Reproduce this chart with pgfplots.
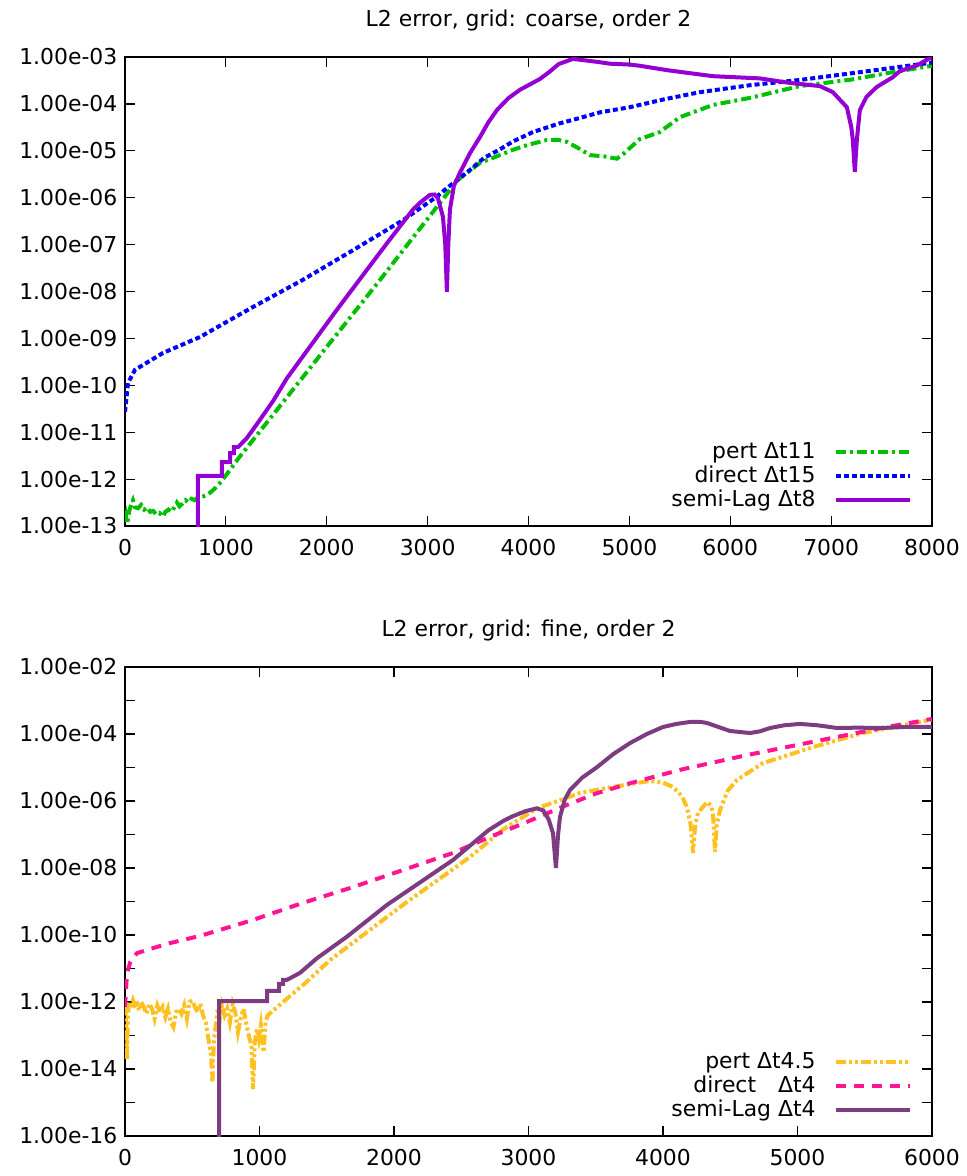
\documentclass[border=0pt,11pt]{standalone}
\usepackage{fontspec}
\setmainfont{DejaVu Sans}
\usepackage{pgfplots}
\pgfplotsset{compat=1.18}
\definecolor{cgreen}{RGB}{0,192,0}
\definecolor{cblue}{RGB}{0,0,255}
\definecolor{cviolet}{RGB}{148,0,211}
\definecolor{cyellow}{RGB}{255,192,32}
\definecolor{cpink}{RGB}{255,20,147}
\definecolor{cplum}{RGB}{125,60,130}
\begin{document}
\begin{tikzpicture}
\pgfplotsset{
  every axis/.append style={
    scale only axis, width=403.5pt, height=234.5pt,
    ymode=log,
    axis line style={line width=0.8pt},
    tick style={black, line width=0.6pt},
    major tick length=5pt,
    yminorticks=false, xminorticks=false,
    tick align=inside,
    xticklabel style={/pgf/number format/1000 sep={}, /pgf/number format/assume math mode=true, yshift=-3pt},
    title style={yshift=3pt},
    legend cell align=right,
    legend plot pos=right,
    legend style={at={(1,0)}, anchor=south east, xshift=-10pt, yshift=6pt, draw=none, fill=none, column sep=7pt, row sep=-2pt, inner sep=0pt},
    legend image code/.code={\draw[#1] (0pt,0pt) -- (37pt,0pt);},
  }
}
\begin{axis}[
  name=top, at={(0,0)}, anchor=north west,
  title={L2 error, grid: coarse, order 2},
  xmin=0, xmax=8000, ymin=1e-13, ymax=1e-3,
  xtick={0,1000,...,8000},
  ytick={1e-13,1e-12,1e-11,1e-10,1e-9,1e-8,1e-7,1e-6,1e-5,1e-4,1e-3},
  yticklabels={1.00e-13,1.00e-12,1.00e-11,1.00e-10,1.00e-09,1.00e-08,1.00e-07,1.00e-06,1.00e-05,1.00e-04,1.00e-03},
]
\addplot[cgreen, line width=2pt, dash pattern=on 5pt off 2pt on 1.5pt off 2pt] coordinates {
(0,1.26e-13) (10,1.58e-13) (20,1.12e-13) (30,1.41e-13) (40,2e-13) (60,2.82e-13) (79,3.55e-13)
(100,2.51e-13) (130,2.4e-13) (160,2.82e-13) (190,2.24e-13) (220,2.51e-13) (250,2e-13) (280,2.09e-13)
(310,1.78e-13) (340,1.91e-13) (377,1.58e-13) (400,2e-13) (430,2.24e-13) (460,2e-13) (490,2.51e-13)
(515,3.16e-13) (540,2.63e-13) (570,3.02e-13) (600,3.55e-13) (630,3.16e-13) (660,3.8e-13) (690,3.55e-13)
(720,3.98e-13) (760,4.17e-13) (800,4.47e-13) (850,5.25e-13) (900,6.61e-13) (942,8.32e-13) (1000,1.2e-12)
(1123,2.75e-12) (1500,2.88e-11) (2000,6.6e-10) (2500,1.48e-8) (2854,1.41e-7) (3000,3.55e-7)
(3191,1.2e-6) (3300,2.4e-6) (3518,5.5e-6) (3716,8.1e-6) (3845,1.05e-5) (4000,1.35e-5) (4182,1.7e-5)
(4300,1.7e-5) (4380,1.55e-5) (4500,1.12e-5) (4608,8.1e-6) (4750,7.6e-6) (4876,6.8e-6) (4950,8.9e-6)
(5005,1.15e-5) (5104,1.78e-5) (5300,2.5e-5) (5500,5.2e-5) (5828,9.5e-5) (6200,1.35e-4) (6690,2.4e-4)
(7200,3.3e-4) (7600,4.7e-4) (8000,6.5e-4)
};
\addlegendentry{pert Δt11}
\addplot[cblue, line width=2pt, dash pattern=on 2.5pt off 1.5pt] coordinates {
(0,2.69e-11) (30,1.12e-10) (99,2.14e-10) (377,4.9e-10) (743,1.07e-9) (1269,4.68e-9) (1764,1.78e-8)
(2260,7.59e-8) (2755,3.31e-7) (3090,1.05e-6) (3191,1.6e-6) (3419,3.89e-6) (3560,7.08e-6) (3716,1.07e-5)
(3845,1.58e-5) (4044,2.51e-5) (4300,3.8e-5) (4509,5.01e-5) (4708,6.6e-5) (5005,8.51e-5) (5350,1.26e-4)
(5700,1.78e-4) (6200,2.51e-4) (6690,3.24e-4) (7300,4.79e-4) (8000,7.59e-4)
};
\addlegendentry{direct Δt15}
\addplot[cviolet, line width=2pt] coordinates {
(723,5e-14) (723,1.17e-12) (961,1.17e-12) (961,2.3e-12) (1041,2.3e-12) (1041,3.6e-12) (1080,3.6e-12)
(1080,4.8e-12) (1120,4.8e-12) (1206,7.4e-12) (1300,1.41e-11) (1470,4.7e-11) (1605,1.41e-10)
(2101,4.1e-9) (2597,1.07e-7) (2855,5.6e-7) (2924,7.8e-7) (3023,1.15e-6) (3070,1.17e-6) (3102,9.8e-7)
(3152,3.9e-7) (3175,1e-7) (3191,9.8e-9) (3205,1e-7) (3221,5.5e-7) (3260,1.78e-6) (3320,3.4e-6)
(3420,8.9e-6) (3518,1.95e-5) (3600,3.98e-5) (3687,7.4e-5) (3800,1.32e-4) (3915,2.0e-4) (4000,2.51e-4)
(4113,3.4e-4) (4200,4.68e-4) (4300,7.08e-4) (4440,9.1e-4) (4678,7.9e-4) (4807,7.2e-4) (5005,6.9e-4)
(5104,6.5e-4) (5371,5.25e-4) (5828,3.9e-4) (6293,3.5e-4) (6590,2.8e-4) (6888,2.4e-4) (7017,1.78e-4)
(7156,8.5e-5) (7200,3.2e-5) (7215,1.7e-5) (7235,3.55e-6) (7255,1.7e-5) (7285,7.4e-5) (7350,1.41e-4)
(7453,2.3e-4) (7611,3.7e-4) (7681,5.0e-4) (7850,6.6e-4) (7978,9.5e-4) (8000,1e-3)
};
\addlegendentry{semi-Lag Δt8}
\end{axis}

\begin{axis}[
  name=bot, at={(0,-305pt)}, anchor=north west,
  title={L2 error, grid: fine, order 2},
  xmin=0, xmax=6000, ymin=1e-16, ymax=1e-2,
  xtick={0,1000,...,6000},
  ytick={1e-16,1e-15,1e-14,1e-13,1e-12,1e-11,1e-10,1e-9,1e-8,1e-7,1e-6,1e-5,1e-4,1e-3,1e-2},
  yticklabels={1.00e-16,{},1.00e-14,{},1.00e-12,{},1.00e-10,{},1.00e-08,{},1.00e-06,{},1.00e-04,{},1.00e-02},
]
\addplot[cyellow, line width=2pt, dash pattern=on 5pt off 1.5pt on 1.5pt off 1.5pt on 1.5pt off 1.5pt] coordinates {
(0,7.94e-13) (8,2.51e-13) (15,2.0e-14) (22,3.98e-13) (30,1e-12) (45,6.31e-13) (60,1.12e-12) (75,7.94e-13)
(90,8.91e-13) (105,5.62e-13) (120,1e-12) (140,7.08e-13) (160,4.47e-13) (180,8.91e-13) (200,6.31e-13)
(220,3.16e-13) (240,7.94e-13) (260,5.01e-13) (280,7.08e-13) (300,3.55e-13) (320,6.31e-13) (340,2.51e-13)
(360,1.78e-13) (380,5.01e-13) (400,6.31e-13) (420,4.47e-13) (440,7.94e-13) (460,3.16e-13) (480,1e-12)
(500,1.12e-12) (520,7.08e-13) (540,5.01e-13) (560,8.91e-13) (580,3.98e-13) (600,2.51e-13) (620,7.94e-14)
(640,2.51e-14) (650,3.98e-15) (660,6.31e-14) (675,2.0e-13) (690,6.31e-13) (705,3.16e-13) (720,7.94e-13)
(740,3.98e-13) (760,6.31e-13) (780,2.51e-13) (800,8.91e-13) (820,5.01e-13) (840,1.26e-13) (860,3.16e-13)
(880,6.31e-13) (900,2.51e-13) (920,1e-13) (940,5.01e-14) (952,2.51e-15) (965,6.31e-14) (980,1.58e-13)
(995,7.94e-14) (1010,2.0e-13) (1030,3.16e-14) (1045,2.51e-13) (1060,3.98e-13)
(1204,1.26e-12) (1350,3.98e-12) (1524,1.78e-11) (2067,7.94e-10) (2565,2.14e-8) (2810,1.41e-7)
(3063,6.03e-7) (3383,1.74e-6) (3628,2.63e-6) (3903,3.98e-6) (4000,3.55e-6) (4074,2.63e-6) (4140,1.41e-6)
(4178,6.61e-7) (4205,2.0e-7) (4223,2.82e-8) (4240,2.0e-7) (4260,4.37e-7) (4327,9.33e-7) (4360,7.08e-7)
(4372,3.98e-7) (4387,3.02e-8) (4400,2e-7) (4424,5.37e-7) (4480,2.0e-6) (4550,4.27e-6) (4743,1.35e-5)
(5115,4.07e-5) (5487,1.07e-4) (5985,2.63e-4) (6000,2.7e-4)
};
\addlegendentry{pert Δt4.5}
\addplot[cpink, line width=2pt, dash pattern=on 5pt off 4pt] coordinates {
(0,7.08e-13) (15,7.41e-12) (40,1.58e-11) (89,2.88e-11) (208,4.07e-11) (335,5.75e-11) (461,7.59e-11)
(580,1e-10) (952,2.82e-10) (1323,9.12e-10) (1695,2.69e-9) (2067,8.71e-9) (2439,2.82e-8) (2714,8.51e-8)
(2962,2.14e-7) (3284,7.59e-7) (3507,1.70e-6) (3755,3.39e-6) (4126,8.51e-6) (4622,2.34e-5)
(5118,5.89e-5) (5613,1.48e-4) (6000,2.82e-4)
};
\addlegendentry{direct\hspace{11pt}Δt4}
\addplot[cplum, line width=2pt] coordinates {
(699,5e-17) (699,1.07e-12) (1056,1.07e-12) (1056,2.14e-12) (1145,2.14e-12) (1145,3.47e-12) (1175,3.47e-12)
(1175,4.57e-12) (1204,4.57e-12) (1301,7.41e-12) (1428,2.04e-11) (1650,8.91e-11) (1948,7.94e-10)
(2439,1.74e-8) (2700,1.32e-7) (2810,2.51e-7) (2885,3.55e-7) (2980,5.01e-7) (3061,6.03e-7) (3110,5.25e-7)
(3150,2.82e-7) (3182,1.10e-7) (3204,1e-8) (3220,1e-7) (3234,3.31e-7) (3270,1.12e-6) (3309,2.14e-6)
(3400,5.01e-6) (3509,1.02e-5) (3630,2.51e-5) (3755,5.37e-5) (3880,1e-4) (4000,1.62e-4) (4100,2.0e-4)
(4201,2.29e-4) (4280,2.29e-4) (4327,2.14e-4) (4420,1.58e-4) (4498,1.23e-4) (4647,1.07e-4) (4720,1.20e-4)
(4796,1.51e-4) (4900,1.82e-4) (5019,2.0e-4) (5150,1.82e-4) (5294,1.51e-4) (5450,1.55e-4) (5613,1.51e-4)
(5800,1.62e-4) (6000,1.62e-4)
};
\addlegendentry{semi-Lag Δt4}
\end{axis}
\pgfresetboundingbox
\path[use as bounding box] (-62.5pt,28.5pt) rectangle (420.5pt,-559.5pt);
\end{tikzpicture}
\end{document}
